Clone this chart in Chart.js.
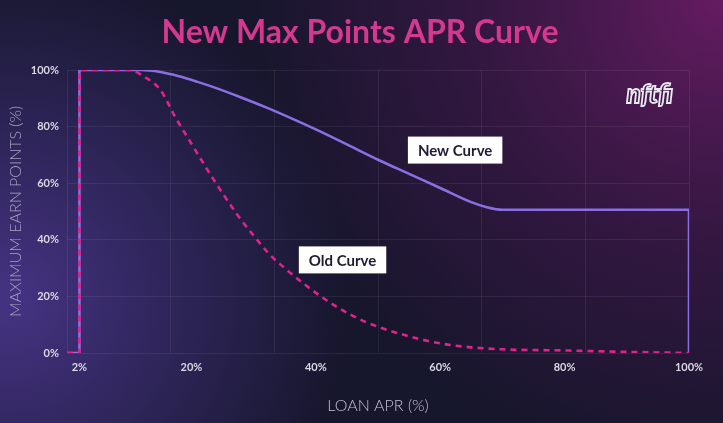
<!DOCTYPE html>
<html>
<head>
<meta charset="utf-8">
<script src="https://cdn.jsdelivr.net/npm/chart.js@4/dist/chart.umd.min.js"></script>
<style>
    html, body { margin: 0; padding: 0; background: #16162c; }
    #wrap { width: 723px; height: 423px; position: relative; }
</style>
</head>
<body>
<div id="wrap"><canvas id="aprChart"></canvas></div>
<script>
// Chart data
const newApr    = [0, 2, 2, 12, 15, 18, 21, 24, 28, 32, 36, 40, 45, 50, 55, 60, 65, 67.5, 70, 80, 90, 100, 100];
const newPoints = [0, 0, 100, 100, 99.3, 97.8, 95.8, 93.6, 90.3, 86.8, 83, 79, 73.7, 68.3, 63.3, 58.3, 53.3, 51.5, 50.6, 50.6, 50.6, 50.6, 0];

const oldApr    = [0, 2, 2, 10, 12.5, 15, 17.5, 20, 22.5, 25, 27.5, 30, 32.5, 35, 38, 43, 48, 54, 60, 65, 70, 80, 90, 100];
const oldPoints = [0, 0, 100, 100, 97.5, 93, 83, 74, 65, 56.5, 48.5, 41.5, 35, 30, 24.6, 16.8, 11, 6.5, 3.4, 2, 1.3, 0.9, 0.4, 0];

const xTickValues = [2, 20, 40, 60, 80, 100];

const FONT = 'Lato, "Noto Sans", sans-serif';

// Background glow behind everything
const backgroundPlugin = {
    id: 'bgGlow',
    beforeDraw(chart) {
        const c = chart.ctx;
        const w = chart.width, h = chart.height;
        c.save();
        c.fillStyle = '#16162c';
        c.fillRect(0, 0, w, h);
        let g = c.createRadialGradient(10, 300, 0, 10, 300, 340);
        g.addColorStop(0, 'rgba(74, 54, 140, 0.9)');
        g.addColorStop(1, 'rgba(74, 54, 140, 0)');
        c.fillStyle = g;
        c.fillRect(0, 0, w, h);
        g = c.createRadialGradient(720, 0, 0, 720, 0, 480);
        g.addColorStop(0, 'rgba(105, 28, 100, 0.95)');
        g.addColorStop(0.55, 'rgba(80, 24, 85, 0.45)');
        g.addColorStop(1, 'rgba(80, 24, 85, 0)');
        c.fillStyle = g;
        c.fillRect(0, 0, w, h);
        c.restore();
    }
};

// Title, logo and curve labels
const decorPlugin = {
    id: 'decor',
    afterDraw(chart) {
        const c = chart.ctx;
        const xs = chart.scales.x, ys = chart.scales.y;
        c.save();

        c.font = 'bold 32px ' + FONT;
        c.fillStyle = '#d5388f';
        c.textAlign = 'center';
        c.textBaseline = 'middle';
        c.fillText('New Max Points APR Curve', 360, 33);

        // nftfi logo
        c.font = 'italic 900 26px ' + FONT;
        c.lineWidth = 1.8;
        c.strokeStyle = '#ece8f2';
        c.fillStyle = '#3a1a46';
        c.textAlign = 'right';
        c.fillText('nftfi', 673, 95);
        c.strokeText('nftfi', 673, 95);

        const boxes = [
            { text: 'New Curve', x: 62.4, y: 71.7 },
            { text: 'Old Curve', x: 44.3, y: 32.9 }
        ];
        c.font = 'bold 15px ' + FONT;
        c.textAlign = 'center';
        boxes.forEach(b => {
            const cx = xs.getPixelForValue(b.x);
            const cy = ys.getPixelForValue(b.y);
            const tw = c.measureText(b.text).width + 20;
            c.fillStyle = '#ffffff';
            c.fillRect(cx - tw / 2, cy - 13.5, tw, 27);
            c.fillStyle = '#1d1c33';
            c.fillText(b.text, cx, cy + 1);
        });
        c.restore();
    }
};

const ctx = document.getElementById('aprChart').getContext('2d');
const aprChart = new Chart(ctx, {
    type: 'line',
    data: {
        datasets: [{
            label: 'New Curve',
            data: newApr.map((x, i) => ({ x: x, y: newPoints[i] })),
            borderColor: '#8a6fe2',
            borderWidth: 2.6,
            pointRadius: 0,
            cubicInterpolationMode: 'monotone',
            fill: false,
            order: 2
        }, {
            label: 'Old Curve',
            data: oldApr.map((x, i) => ({ x: x, y: oldPoints[i] })),
            borderColor: '#e0228c',
            borderWidth: 2.6,
            borderDash: [6, 5],
            pointRadius: 0,
            cubicInterpolationMode: 'monotone',
            fill: false,
            order: 1
        }]
    },
    options: {
        responsive: true,
        maintainAspectRatio: false,
        animation: false,
        layout: { padding: { top: 70, right: 34, left: 0, bottom: 0 } },
        plugins: {
            legend: { display: false },
            tooltip: { enabled: false }
        },
        scales: {
            x: {
                type: 'linear',
                min: 0,
                max: 100,
                afterBuildTicks: scale => {
                    scale.ticks = xTickValues.map(v => ({ value: v }));
                },
                afterFit: scale => { scale.height = 70; },
                grid: { display: false },
                border: { display: false },
                ticks: {
                    color: '#d9d8e4',
                    font: { family: FONT, size: 11, weight: 'bold' },
                    padding: 0,
                    maxRotation: 0,
                    callback: v => v + '%'
                },
                title: {
                    display: true,
                    text: 'LOAN APR (%)',
                    color: '#c4c0d6',
                    font: { family: FONT, size: 16, weight: '300' },
                    padding: { top: 4, bottom: 8 }
                }
            },
            xg: {
                type: 'linear',
                position: 'bottom',
                min: 0,
                max: 100,
                afterBuildTicks: scale => {
                    const t = [];
                    for (let i = 0; i <= 6; i++) t.push({ value: i * 100 / 6 });
                    scale.ticks = t;
                },
                afterFit: scale => { scale.height = 0; },
                ticks: { display: false },
                grid: { color: 'rgba(255,255,255,0.07)', drawTicks: false },
                border: { display: false }
            },
            y: {
                min: 0,
                max: 100,
                afterFit: scale => { scale.width = 67; },
                ticks: {
                    stepSize: 20,
                    color: '#d9d8e4',
                    font: { family: FONT, size: 11, weight: 'bold' },
                    padding: 8,
                    callback: v => v + '%'
                },
                grid: { color: 'rgba(255,255,255,0.07)', drawTicks: false },
                border: { display: false },
                title: {
                    display: true,
                    text: 'MAXIMUM EARN POINTS (%)',
                    color: '#a8a3c2',
                    font: { family: FONT, size: 16, weight: '300' },
                    padding: { top: 6, bottom: 0 }
                }
            }
        }
    },
    plugins: [backgroundPlugin, decorPlugin]
});
</script>
</body>
</html>
